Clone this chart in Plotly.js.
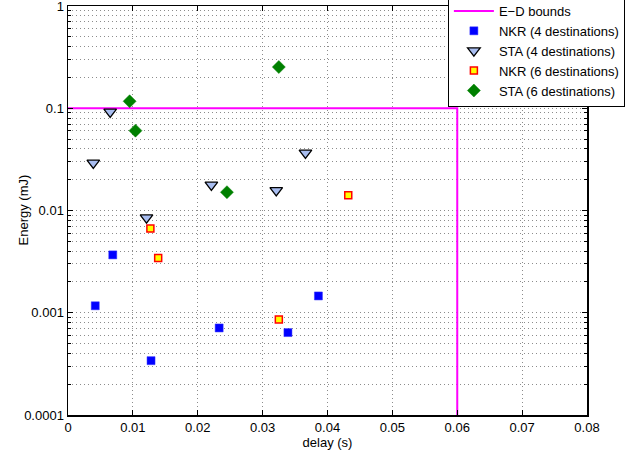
<!DOCTYPE html>
<html>
<head>
<meta charset="utf-8">
<script src="https://cdn.plot.ly/plotly-3.0.1.min.js"></script>
<style>
html,body{margin:0;padding:0;background:#fff;}
#chart{width:638px;height:455px;}
</style>
</head>
<body>
<div id="chart"></div>
<script>
// E-D bounds
var boundX = [0, 0.06, 0.06];
var boundY = [0.1, 0.1, 0.0001];

// NKR (4 destinations)
var nkr4X = [0.0042, 0.0128, 0.0069, 0.0233, 0.0339, 0.0386];
var nkr4Y = [0.00117, 0.00034, 0.00368, 0.00071, 0.00064, 0.00146];

// STA (4 destinations)
var sta4X = [0.0039, 0.0065, 0.0121, 0.0221, 0.0321, 0.0366];
var sta4Y = [0.0292, 0.092, 0.0085, 0.0178, 0.0157, 0.0366];

// NKR (6 destinations)
var nkr6X = [0.0127, 0.0139, 0.0325, 0.0432];
var nkr6Y = [0.00665, 0.00344, 0.00086, 0.0141];

// STA (6 destinations)
var sta6X = [0.0095, 0.0104, 0.0325, 0.0245];
var sta6Y = [0.117, 0.0604, 0.253, 0.0151];

var xTicks = [0, 0.01, 0.02, 0.03, 0.04, 0.05, 0.06, 0.07, 0.08];
var xTickText = ['0', '0.01', '0.02', '0.03', '0.04', '0.05', '0.06', '0.07', '0.08'];
var yTicks = [0.0001, 0.001, 0.01, 0.1, 1];
var yTickText = ['0.0001', '0.001', '0.01', '0.1', '1'];

var yMinor = [];
for (var d = -4; d < 0; d++) {
  for (var m = 2; m <= 9; m++) yMinor.push(m * Math.pow(10, d));
}

var traces = [
  {x: boundX, y: boundY, mode: 'lines', name: 'E\u2212D bounds',
   line: {color: '#ff00ff', width: 2}},
  {x: nkr4X, y: nkr4Y, mode: 'markers', name: 'NKR (4 destinations)',
   marker: {symbol: 'square', size: 8, color: '#0000ff', line: {color: '#3030ff', width: 0.5}}},
  {x: sta4X, y: sta4Y, mode: 'markers', name: 'STA (4 destinations)',
   marker: {symbol: 'triangle-down', size: 11, color: '#a8bdf0', line: {color: '#000000', width: 1.3}}},
  {x: nkr6X, y: nkr6Y, mode: 'markers', name: 'NKR (6 destinations)',
   marker: {symbol: 'square', size: 7, color: '#ffff00', line: {color: '#ff0000', width: 1.5}}},
  {x: sta6X, y: sta6Y, mode: 'markers', name: 'STA (6 destinations)',
   marker: {symbol: 'diamond', size: 10, color: '#008000', line: {color: '#008000', width: 0.5}}}
];

var gridCol = '#8c8c8c';
var layout = {
  width: 638, height: 455,
  margin: {l: 68, r: 51, t: 6, b: 40, autoexpand: false},
  paper_bgcolor: '#ffffff', plot_bgcolor: '#ffffff',
  font: {family: 'Liberation Sans, Arial, sans-serif', size: 13, color: '#000'},
  showlegend: true,
  legend: {x: 1.073, xanchor: 'right', y: 1.027, yanchor: 'top',
    bgcolor: '#ffffff', bordercolor: '#000000', borderwidth: 1,
    font: {size: 13}, tracegroupgap: 0, itemwidth: 40},
  xaxis: {
    range: [0, 0.08], tickmode: 'array', tickvals: xTicks, ticktext: xTickText,
    showline: true, linecolor: '#000', linewidth: 1.5, mirror: 'ticks',
    ticks: 'inside', ticklen: 5, tickcolor: '#000', tickwidth: 1,
    showgrid: true, gridcolor: gridCol, griddash: '1px,3px', gridwidth: 1,
    zeroline: false, ticklabeloverflow: 'allow',
    title: {text: 'delay (s)', font: {size: 13}, standoff: 3}
  },
  yaxis: {
    type: 'log', range: [-4, 0], tickmode: 'array', tickvals: yTicks, ticktext: yTickText,
    showline: true, linecolor: '#000', linewidth: 1.5, mirror: 'ticks',
    ticks: 'inside', ticklen: 5, tickcolor: '#000', tickwidth: 1,
    showgrid: true, gridcolor: gridCol, griddash: '1px,3px', gridwidth: 1,
    zeroline: false, ticklabeloverflow: 'allow',
    minor: {tickmode: 'array', tickvals: yMinor, ticks: 'inside', ticklen: 3,
      tickcolor: '#000', showgrid: true, gridcolor: gridCol, griddash: '1px,3px', gridwidth: 1}
  },
  annotations: [
    {text: 'Energy (mJ)', xref: 'paper', yref: 'paper', x: -0.0867, y: 0.5,
     xanchor: 'center', yanchor: 'middle', textangle: -90, showarrow: false,
     font: {size: 13}}
  ]
};

Plotly.newPlot('chart', traces, layout, {displayModeBar: false, staticPlot: true});
</script>
</body>
</html>
